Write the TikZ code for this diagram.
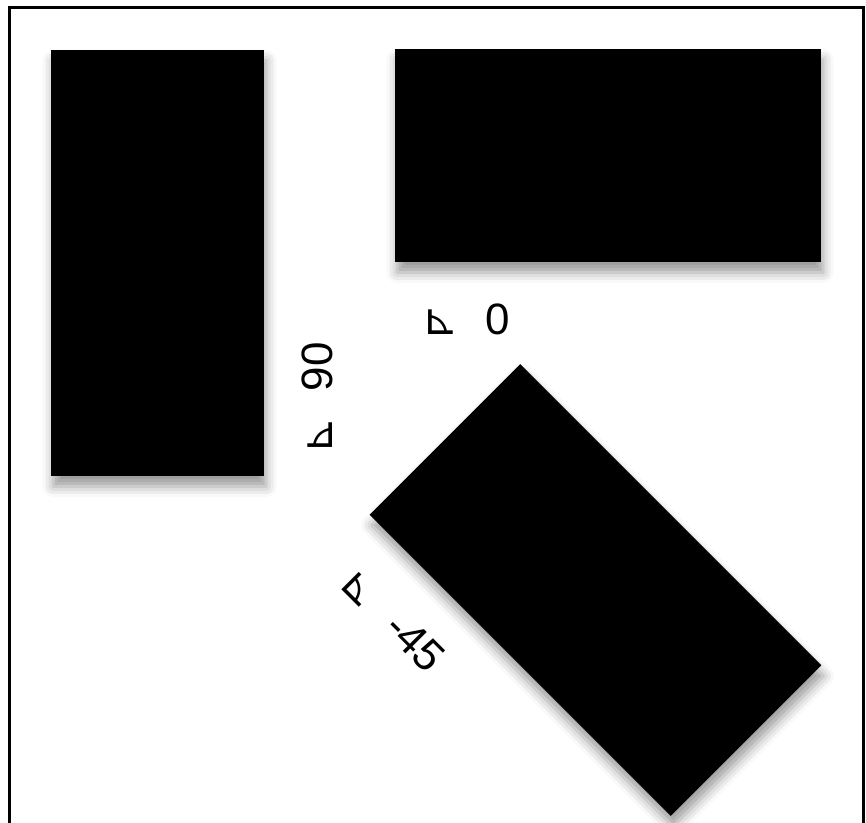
\documentclass[tikz,border=0pt]{standalone}
\usepackage{fontspec}
\setmainfont{Liberation Sans}
\newfontfamily\anglefont{DejaVu Sans}
\usepackage{tikz}
\usetikzlibrary{shadows,shadows.blur}

\tikzset{
  block/.style={fill=black, inner sep=0pt,
    blur shadow={shadow xshift=0.6pt, shadow yshift=-3pt, shadow blur radius=3pt, shadow opacity=40}},
  anglabel/.style={inner sep=0pt, font=\fontsize{12.5}{15}\selectfont}
}

\begin{document}
\begin{tikzpicture}
\useasboundingbox (0,0) rectangle (8.66,8.23);
\draw[line width=0.03cm] (0.095,0) -- (0.095,8.155) -- (8.635,8.155) -- (8.635,0);
%
\node[block, minimum width=2.13cm, minimum height=4.26cm] (tall) at (1.575,5.60) {};
\node[block, minimum width=4.26cm, minimum height=2.13cm] (wide) at (6.08,6.675) {};
\node[block, minimum width=4.26cm, minimum height=2.13cm, rotate=-45] (tilted) at (5.955,2.33) {};
%
\node[anglabel] (zero) at (4.66,5.04) {{\anglefont ⊾}\hspace{0.26cm}0};
\node[anglabel, rotate=90] (ninety) at (3.17,4.25) {{\anglefont ⊾}\hspace{0.26cm}90};
\node[anglabel, rotate=-45] (minus) at (3.93,2.03) {{\anglefont ⊾}\hspace{0.26cm}-45};
\end{tikzpicture}
\end{document}
